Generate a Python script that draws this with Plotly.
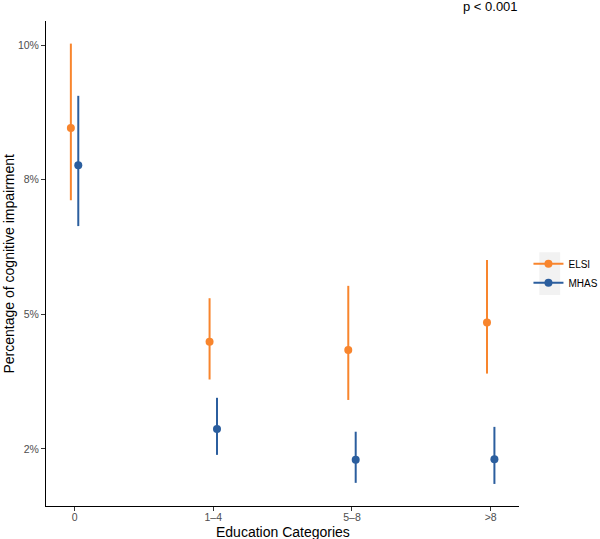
import plotly.graph_objects as go

categories = ["0", "1\u20134", "5\u20138", ">8"]

elsi_est = [0.0846, 0.0449, 0.0434, 0.0485]
elsi_lo = [0.0712, 0.0379, 0.0341, 0.0390]
elsi_hi = [0.1003, 0.0530, 0.0553, 0.0601]

mhas_est = [0.0777, 0.0287, 0.0230, 0.0231]
mhas_lo = [0.0664, 0.0239, 0.0187, 0.0185]
mhas_hi = [0.0906, 0.0345, 0.0282, 0.0291]

y_tickvals = [0.025, 0.05, 0.075, 0.10]
y_ticktext = ["2%", "5%", "8%", "10%"]

ORANGE = "#F8852D"
BLUE = "#2B5E9E"
FONT = "Liberation Sans"

fig = go.Figure()


def add_series(name, est, lo, hi, color):
    fig.add_trace(go.Scatter(
        x=categories, y=est, mode="markers", name=name,
        offsetgroup=name, showlegend=False,
        marker=dict(color=color, size=8),
        error_y=dict(type="data", symmetric=False,
                     array=[h - e for h, e in zip(hi, est)],
                     arrayminus=[e - l for e, l in zip(est, lo)],
                     color=color, thickness=2, width=0),
    ))
    fig.add_trace(go.Scatter(
        x=[None], y=[None], mode="lines+markers", name=name,
        line=dict(color=color, width=2),
        marker=dict(color=color, size=8),
    ))


add_series("ELSI", elsi_est, elsi_lo, elsi_hi, ORANGE)
add_series("MHAS", mhas_est, mhas_lo, mhas_hi, BLUE)

fig.update_layout(
    width=600, height=539,
    margin=dict(l=46, r=81, t=21, b=33, autoexpand=False),
    paper_bgcolor="white", plot_bgcolor="white",
    font=dict(family=FONT, color="black"),
    scattermode="group", scattergap=0.893,
    showlegend=True,
    legend=dict(x=1.02, y=0.48, xanchor="left", yanchor="middle",
                bgcolor="rgba(0,0,0,0)", font=dict(size=10, color="black"),
                itemwidth=30, tracegroupgap=0),
    xaxis=dict(
        type="category", range=[-0.206, 3.204], automargin=False,
        showline=True, linecolor="black", linewidth=1,
        ticks="outside", ticklen=4, tickcolor="#333333",
        ticklabelstandoff=-3,
        tickfont=dict(size=10.5, color="#4D4D4D"),
        showgrid=False, zeroline=False,
    ),
    yaxis=dict(
        range=[0.0144, 0.1045], automargin=False,
        tickvals=y_tickvals, ticktext=y_ticktext,
        showline=True, linecolor="black", linewidth=1,
        ticks="outside", ticklen=4, tickcolor="#333333",
        tickfont=dict(size=10.5, color="#4D4D4D"),
        showgrid=False, zeroline=False,
    ),
    shapes=[dict(type="rect", xref="paper", yref="paper",
                 x0=1.043, x1=1.087, y0=0.435, y1=0.523,
                 fillcolor="#F2F2F2", line=dict(width=0), layer="below")],
    annotations=[
        dict(text="p < 0.001", xref="paper", yref="paper",
             x=1.0, y=1.0, xanchor="right", yanchor="bottom",
             yshift=5, xshift=1, showarrow=False,
             font=dict(size=13, color="black")),
        dict(text="Education Categories", xref="paper", yref="paper",
             x=0.5, y=0, xanchor="center", yanchor="middle", yshift=-26,
             showarrow=False, font=dict(size=14, color="black")),
        dict(text="Percentage of cognitive impairment", xref="paper", yref="paper",
             x=0, y=0.5, xanchor="center", yanchor="middle", xshift=-38,
             textangle=-90, showarrow=False, font=dict(size=14, color="black")),
    ],
)

fig.write_html("out.html", config={"displayModeBar": False},
               post_script="document.body.style.margin='0';document.body.style.padding='0';")
